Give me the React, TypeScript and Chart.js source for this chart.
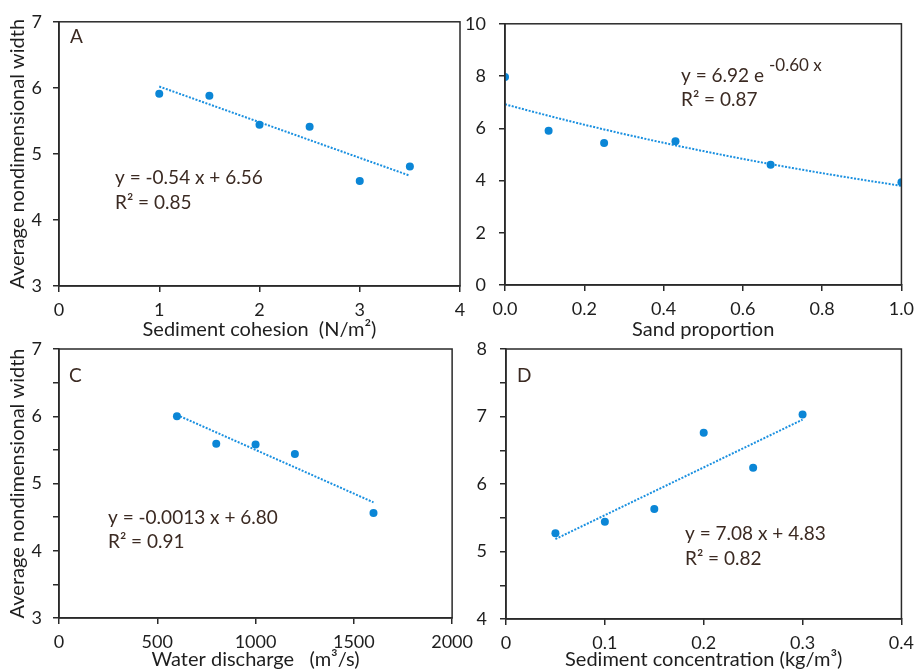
import React, { useEffect, useRef } from "react";
import { Chart, registerables } from "chart.js";

Chart.register(...registerables);

const FONT = "Lato, 'Liberation Sans', sans-serif";
const yTitle = "Average nondimensional width";

// Panel A: sediment cohesion
const cohesionX = [1, 1.5, 2, 2.5, 3, 3.5];
const cohesionY = [5.91, 5.88, 5.44, 5.41, 4.59, 4.81];
const cohesionFit = [-0.54, 6.56]; // slope, intercept
const cohesionXTicks = [0, 1, 2, 3, 4];
const cohesionYTicks = [3, 4, 5, 6, 7];

// Panel B: sand proportion
const sandX = [0, 0.11, 0.25, 0.43, 0.67, 1.0];
const sandY = [7.96, 5.91, 5.44, 5.5, 4.6, 3.93];
const sandFit = [6.92, -0.6]; // a * e^(b x)
const sandXTicks = [0, 0.2, 0.4, 0.6, 0.8, 1.0];
const sandYTicks = [0, 2, 4, 6, 8, 10];

// Panel C: water discharge
const dischargeX = [600, 800, 1000, 1200, 1600];
const dischargeY = [6.0, 5.59, 5.58, 5.44, 4.56];
const dischargeFit = [-0.0013, 6.8];
const dischargeXTicks = [0, 500, 1000, 1500, 2000];
const dischargeYTicks = [3, 3.5, 4, 4.5, 5, 5.5, 6, 6.5, 7];

// Panel D: sediment concentration
const concX = [0.05, 0.1, 0.15, 0.2, 0.25, 0.3];
const concY = [5.27, 5.44, 5.63, 6.76, 6.24, 7.03];
const concFit = [7.08, 4.83];
const concXTicks = [0, 0.1, 0.2, 0.3, 0.4];
const concYTicks = [4, 4.5, 5, 5.5, 6, 6.5, 7, 7.5, 8];

const POINT_COLOR = "#0b86d6";
const LINE_COLOR = "#1a90e0";
const AXIS_COLOR = "#2a2a2a";
const TEXT_COLOR = "#1e1e1e";
const NOTE_COLOR = "#3b2a22";

const TICK_SIZE = 18;
const TITLE_SIZE = 20;
const NOTE_SIZE = 19;

type Note = { text: string; x: number; y: number; size?: number; sup?: string };

type Panel = {
  key: string;
  left: number;
  top: number;
  width: number;
  height: number;
  pad: { left: number; top: number; right: number };
  yWidth: number;
  xHeight: number;
  yPad: number;
  xs: number[];
  ys: number[];
  trend: { x: number; y: number }[];
  xTicks: number[];
  yTicks: number[];
  xFmt: (v: number) => string;
  yFmt: (v: number) => string;
  xTitle: string;
  showYTitle: boolean;
  notes: Note[];
};

const linear = (fit: number[], xs: number[]) => {
  const lo = Math.min(...xs);
  const hi = Math.max(...xs);
  return [lo, hi].map((x) => ({ x, y: fit[0] * x + fit[1] }));
};

const expo = (fit: number[], ticks: number[]) => {
  const lo = ticks[0];
  const hi = ticks[ticks.length - 1];
  const n = 40;
  const out: { x: number; y: number }[] = [];
  for (let i = 0; i <= n; i++) {
    const x = lo + ((hi - lo) * i) / n;
    out.push({ x, y: fit[0] * Math.exp(fit[1] * x) });
  }
  return out;
};

const intOnly = (v: number) => (Number.isInteger(v) ? String(v) : "");

const panels: Panel[] = [
  {
    key: "A",
    left: 0, top: 0, width: 480, height: 342,
    pad: { left: 0, top: 16, right: 20 },
    yWidth: 59, xHeight: 56, yPad: 11,
    xs: cohesionX, ys: cohesionY, trend: linear(cohesionFit, cohesionX),
    xTicks: cohesionXTicks, yTicks: cohesionYTicks,
    xFmt: (v) => String(v), yFmt: (v) => String(v),
    xTitle: "Sediment cohesion  (N/m\u00B2)",
    showYTitle: true,
    notes: [
      { text: "A", x: 70, y: 37 },
      { text: "y = -0.54 x + 6.56", x: 115, y: 178 },
      { text: "R\u00B2 = 0.85", x: 115, y: 203 },
    ],
  },
  {
    key: "B",
    left: 455, top: 0, width: 466, height: 342,
    pad: { left: 0, top: 16, right: 15 },
    yWidth: 50, xHeight: 57, yPad: 13,
    xs: sandX, ys: sandY, trend: expo(sandFit, sandXTicks),
    xTicks: sandXTicks, yTicks: sandYTicks,
    xFmt: (v) => v.toFixed(1), yFmt: (v) => String(v),
    xTitle: "Sand proportion",
    showYTitle: false,
    notes: [
      { text: "y = 6.92 e", x: 226, y: 76, sup: "-0.60 x" },
      { text: "R\u00B2 = 0.87", x: 226, y: 100 },
    ],
  },
  {
    key: "C",
    left: 0, top: 325, width: 480, height: 347,
    pad: { left: 0, top: 24, right: 21 },
    yWidth: 59, xHeight: 54, yPad: 11,
    xs: dischargeX, ys: dischargeY, trend: linear(dischargeFit, dischargeX),
    xTicks: dischargeXTicks, yTicks: dischargeYTicks,
    xFmt: (v) => String(v), yFmt: intOnly,
    xTitle: "Water discharge   (m\u00B3/s)",
    showYTitle: true,
    notes: [
      { text: "C", x: 69, y: 51 },
      { text: "y = -0.0013 x + 6.80", x: 108, y: 193 },
      { text: "R\u00B2 = 0.91", x: 108, y: 217 },
    ],
  },
  {
    key: "D",
    left: 455, top: 325, width: 466, height: 347,
    pad: { left: 0, top: 24, right: 14 },
    yWidth: 51, xHeight: 53, yPad: 13,
    xs: concX, ys: concY, trend: linear(concFit, concX),
    xTicks: concXTicks, yTicks: concYTicks,
    xFmt: (v) => String(v), yFmt: intOnly,
    xTitle: "Sediment concentration (kg/m\u00B3)",
    showYTitle: false,
    notes: [
      { text: "D", x: 62, y: 51 },
      { text: "y = 7.08 x + 4.83", x: 230, y: 209 },
      { text: "R\u00B2 = 0.82", x: 230, y: 234 },
    ],
  },
];

const boxPlugin = {
  id: "box",
  afterDatasetsDraw(chart: any) {
    const { ctx, chartArea } = chart;
    ctx.save();
    ctx.strokeStyle = AXIS_COLOR;
    ctx.lineWidth = 1.5;
    ctx.strokeRect(chartArea.left, chartArea.top, chartArea.right - chartArea.left, chartArea.bottom - chartArea.top);
    ctx.restore();
  },
};

const notesPlugin = {
  id: "notes",
  afterDraw(chart: any, _args: any, opts: any) {
    const ctx = chart.ctx;
    const notes: Note[] = opts.notes || [];
    ctx.save();
    ctx.fillStyle = NOTE_COLOR;
    ctx.textAlign = "left";
    ctx.textBaseline = "middle";
    for (const n of notes) {
      const size = n.size || NOTE_SIZE;
      ctx.font = `${size}px ${FONT}`;
      ctx.fillText(n.text, n.x, n.y);
      if (n.sup) {
        const w = ctx.measureText(n.text).width;
        ctx.font = `${size - 2}px ${FONT}`;
        ctx.fillText(n.sup, n.x + w + 5, n.y - 10);
      }
    }
    ctx.restore();
  },
};

function PanelChart({ p }: { p: Panel }) {
  const ref = useRef<HTMLCanvasElement>(null);
  useEffect(() => {
    if (!ref.current) return;
    const xMin = p.xTicks[0];
    const xMax = p.xTicks[p.xTicks.length - 1];
    const yMin = p.yTicks[0];
    const yMax = p.yTicks[p.yTicks.length - 1];
    const chart = new Chart(ref.current, {
      type: "scatter",
      data: {
        datasets: [
          {
            label: "data",
            data: p.xs.map((x, i) => ({ x, y: p.ys[i] })),
            backgroundColor: POINT_COLOR,
            borderColor: POINT_COLOR,
            pointRadius: 4,
            borderWidth: 0,
          },
          {
            label: "trend",
            data: p.trend,
            showLine: true,
            borderColor: LINE_COLOR,
            borderWidth: 2,
            borderDash: [2, 1.5],
            pointRadius: 0,
            fill: false,
          } as any,
        ],
      },
      options: {
        animation: false,
        responsive: false,
        devicePixelRatio: 1,
        layout: { padding: { left: p.pad.left, top: p.pad.top, right: p.pad.right, bottom: 0 } },
        plugins: {
          legend: { display: false },
          tooltip: { enabled: false },
          notes: { notes: p.notes },
        } as any,
        scales: {
          x: {
            type: "linear",
            min: xMin,
            max: xMax,
            afterBuildTicks: (s: any) => {
              s.ticks = p.xTicks.map((v) => ({ value: v }));
            },
            afterFit: (s: any) => {
              s.height = p.xHeight;
            },
            ticks: {
              callback: (v: any) => p.xFmt(Number(v)),
              color: TEXT_COLOR,
              font: { family: FONT, size: TICK_SIZE },
              padding: 7,
              maxRotation: 0,
              autoSkip: false,
            },
            grid: {
              drawOnChartArea: false,
              drawTicks: true,
              tickLength: 6,
              color: AXIS_COLOR,
              lineWidth: 1.5,
            },
            border: { display: true, color: AXIS_COLOR, width: 1.5 },
            title: {
              display: true,
              text: p.xTitle,
              color: TEXT_COLOR,
              font: { family: FONT, size: TITLE_SIZE },
              padding: { top: 0, bottom: 0 },
            },
          },
          y: {
            type: "linear",
            min: yMin,
            max: yMax,
            afterBuildTicks: (s: any) => {
              s.ticks = p.yTicks.map((v) => ({ value: v }));
            },
            afterFit: (s: any) => {
              s.width = p.yWidth;
            },
            ticks: {
              callback: (v: any) => p.yFmt(Number(v)),
              color: TEXT_COLOR,
              font: { family: FONT, size: TICK_SIZE },
              padding: p.yPad,
              autoSkip: false,
            },
            grid: {
              drawOnChartArea: false,
              drawTicks: true,
              tickLength: 6,
              color: AXIS_COLOR,
              lineWidth: 1.5,
            },
            border: { display: true, color: AXIS_COLOR, width: 1.5 },
            title: {
              display: p.showYTitle,
              text: yTitle,
              color: TEXT_COLOR,
              font: { family: FONT, size: TITLE_SIZE },
              padding: { top: 6, bottom: 0 },
            },
          },
        },
      },
      plugins: [boxPlugin, notesPlugin],
    } as any);
    return () => chart.destroy();
  }, [p]);
  return (
    <canvas
      ref={ref}
      width={p.width}
      height={p.height}
      style={{ position: "absolute", left: p.left, top: p.top, width: p.width, height: p.height }}
    />
  );
}

export default function App() {
  return (
    <div style={{ position: "absolute", left: 0, top: 0, width: 921, height: 670, background: "#ffffff", overflow: "hidden" }}>
      {panels.map((p) => (
        <PanelChart key={p.key} p={p} />
      ))}
    </div>
  );
}
